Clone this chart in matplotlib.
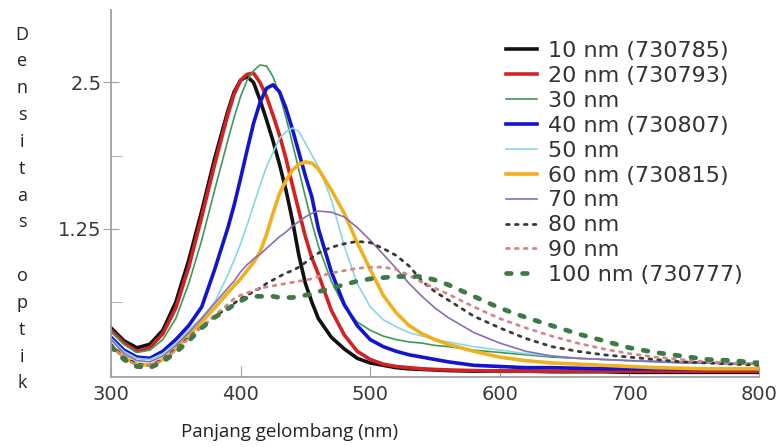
import numpy as np
import matplotlib.pyplot as plt

# panjang gelombang (nm)
lam = [300, 310, 320, 330, 340, 350, 360, 370, 380, 390, 395, 400, 405, 410, 415,
       420, 425, 430, 435, 440, 445, 450, 455, 460, 470, 480, 490, 500, 510, 520,
       530, 540, 550, 560, 580, 600, 620, 640, 660, 680, 700, 720, 740, 760, 780, 800]

nm10 = [0.40, 0.29, 0.23, 0.26, 0.38, 0.62, 0.98, 1.40, 1.85, 2.25, 2.42, 2.52, 2.55, 2.50, 2.35,
        2.18, 2.00, 1.80, 1.58, 1.32, 1.02, 0.78, 0.62, 0.48, 0.32, 0.22, 0.14, 0.10, 0.08, 0.06,
        0.05, 0.045, 0.04, 0.035, 0.03, 0.03, 0.03, 0.025, 0.025, 0.025, 0.02, 0.02, 0.02, 0.02, 0.02, 0.02]
nm20 = [0.38, 0.27, 0.20, 0.23, 0.35, 0.57, 0.92, 1.35, 1.80, 2.22, 2.40, 2.52, 2.57, 2.58, 2.50,
        2.38, 2.22, 2.05, 1.85, 1.62, 1.40, 1.18, 1.00, 0.86, 0.55, 0.34, 0.20, 0.13, 0.09, 0.07,
        0.06, 0.05, 0.045, 0.04, 0.035, 0.03, 0.03, 0.03, 0.03, 0.03, 0.03, 0.03, 0.03, 0.03, 0.03, 0.03]
nm30 = [0.37, 0.26, 0.19, 0.21, 0.30, 0.48, 0.78, 1.15, 1.58, 2.00, 2.20, 2.38, 2.52, 2.60, 2.65,
        2.64, 2.55, 2.40, 2.20, 1.98, 1.75, 1.52, 1.30, 1.10, 0.80, 0.58, 0.45, 0.38, 0.33, 0.30,
        0.28, 0.27, 0.25, 0.24, 0.21, 0.19, 0.17, 0.15, 0.14, 0.13, 0.12, 0.115, 0.11, 0.105, 0.10, 0.10]
nm40 = [0.32, 0.21, 0.15, 0.14, 0.20, 0.30, 0.42, 0.58, 0.90, 1.25, 1.45, 1.68, 1.92, 2.15, 2.33,
        2.45, 2.48, 2.42, 2.28, 2.10, 1.90, 1.70, 1.52, 1.25, 0.88, 0.60, 0.42, 0.30, 0.24, 0.20,
        0.17, 0.15, 0.13, 0.11, 0.08, 0.07, 0.06, 0.06, 0.055, 0.05, 0.05, 0.05, 0.05, 0.05, 0.05, 0.05]
nm50 = [0.31, 0.20, 0.14, 0.13, 0.18, 0.27, 0.38, 0.49, 0.62, 0.85, 0.98, 1.12, 1.28, 1.45, 1.62,
        1.78, 1.90, 2.02, 2.08, 2.11, 2.08, 1.98, 1.88, 1.78, 1.50, 1.10, 0.78, 0.58, 0.47, 0.41,
        0.36, 0.33, 0.30, 0.28, 0.24, 0.21, 0.18, 0.16, 0.14, 0.13, 0.12, 0.11, 0.105, 0.10, 0.10, 0.095]
nm60 = [0.25, 0.15, 0.09, 0.08, 0.13, 0.22, 0.34, 0.45, 0.57, 0.70, 0.76, 0.82, 0.89, 0.96, 1.05,
        1.20, 1.38, 1.55, 1.66, 1.75, 1.80, 1.82, 1.81, 1.76, 1.58, 1.38, 1.13, 0.90, 0.68, 0.53,
        0.42, 0.35, 0.30, 0.26, 0.20, 0.15, 0.12, 0.10, 0.09, 0.08, 0.07, 0.06, 0.055, 0.05, 0.05, 0.05]
nm70 = [0.30, 0.18, 0.12, 0.11, 0.16, 0.25, 0.36, 0.48, 0.61, 0.74, 0.80, 0.88, 0.94, 0.99, 1.03,
        1.08, 1.13, 1.18, 1.22, 1.27, 1.31, 1.35, 1.38, 1.40, 1.39, 1.35, 1.26, 1.15, 1.03, 0.91,
        0.78, 0.67, 0.57, 0.49, 0.36, 0.27, 0.20, 0.16, 0.14, 0.13, 0.12, 0.11, 0.10, 0.10, 0.09, 0.09]
nm80 = [0.26, 0.15, 0.09, 0.08, 0.13, 0.22, 0.32, 0.41, 0.50, 0.57, 0.61, 0.65, 0.68, 0.71, 0.74,
        0.78, 0.81, 0.84, 0.87, 0.89, 0.92, 0.96, 1.00, 1.04, 1.09, 1.12, 1.14, 1.13, 1.08, 1.02,
        0.93, 0.80, 0.71, 0.64, 0.50, 0.40, 0.31, 0.24, 0.20, 0.17, 0.15, 0.13, 0.11, 0.10, 0.09, 0.08]
nm90 = [0.25, 0.14, 0.08, 0.08, 0.12, 0.21, 0.31, 0.41, 0.51, 0.60, 0.65, 0.68, 0.70, 0.72, 0.74,
        0.75, 0.76, 0.77, 0.78, 0.79, 0.80, 0.81, 0.82, 0.84, 0.87, 0.89, 0.91, 0.92, 0.92, 0.90,
        0.85, 0.79, 0.74, 0.69, 0.58, 0.48, 0.40, 0.33, 0.27, 0.22, 0.18, 0.15, 0.13, 0.11, 0.10, 0.09]
nm100 = [0.24, 0.13, 0.07, 0.06, 0.11, 0.19, 0.29, 0.40, 0.49, 0.56, 0.60, 0.63, 0.66, 0.67, 0.67,
         0.67, 0.67, 0.66, 0.66, 0.66, 0.67, 0.68, 0.69, 0.71, 0.74, 0.77, 0.80, 0.82, 0.83, 0.84,
         0.84, 0.84, 0.81, 0.77, 0.67, 0.57, 0.49, 0.42, 0.35, 0.29, 0.23, 0.19, 0.16, 0.13, 0.12, 0.10]

labels = ['10 nm (730785)', '20 nm (730793)', '30 nm', '40 nm (730807)', '50 nm',
          '60 nm (730815)', '70 nm', '80 nm', '90 nm', '100 nm (730777)']

fig = plt.figure(figsize=(7.8, 4.47), dpi=100)
ax = fig.add_axes([0.1423, 0.1566, 0.8308, 0.821])

ax.plot(lam, nm10, color='#111111', lw=2.6, label=labels[0])
ax.plot(lam, nm20, color='#d42222', lw=2.6, label=labels[1])
ax.plot(lam, nm30, color='#3c9a55', lw=1.2, label=labels[2])
ax.plot(lam, nm40, color='#1414d0', lw=2.6, label=labels[3])
ax.plot(lam, nm50, color='#8ad6e6', lw=1.2, label=labels[4])
ax.plot(lam, nm60, color='#f0b020', lw=2.6, label=labels[5])
ax.plot(lam, nm70, color='#8a6cb4', lw=1.2, label=labels[6])
ax.plot(lam, nm80, color='#3a3a3a', lw=2.0, ls=(0, (1, 2.2)), dash_capstyle='round', label=labels[7])
ax.plot(lam, nm90, color='#d08888', lw=2.0, ls=(0, (1, 2.2)), dash_capstyle='round', label=labels[8])
ax.plot(lam, nm100, color='#3d7a45', lw=3.4, ls=(0, (1, 2.4)), dash_capstyle='round', label=labels[9])

ax.set_xlim(300, 800)
ax.set_ylim(-0.02, 3.12)
ax.set_xticks([300, 400, 500, 600, 700, 800])
ax.set_yticks([1.25, 2.5])
ax.set_yticklabels(['1.25', '2.5'])
ax.set_yticks([0.625, 1.875], minor=True)

for s in ['top', 'right']:
    ax.spines[s].set_visible(False)
for s in ['left', 'bottom']:
    ax.spines[s].set_color('#a0a0a0')
    ax.spines[s].set_linewidth(1.3)
ax.tick_params(axis='both', which='both', direction='in', length=8, color='#a0a0a0',
               labelsize=14, labelcolor='#3a3a3a')
ax.tick_params(axis='y', which='major', direction='inout', length=12, pad=1)
ax.tick_params(axis='x', pad=6)

leg = ax.legend(loc='upper left', bbox_to_anchor=(495 / 780, 1 - 30 / 447),
                bbox_transform=fig.transFigure, frameon=False, fontsize=16,
                handlelength=1.4, handletextpad=0.5, labelspacing=0.22, borderpad=0)
for t in leg.get_texts():
    t.set_color('#333333')

ylab = '\n'.join(list('Densitas optik'))
fig.text(22 / 780, 1 - 209 / 447, ylab, ha='center', va='center', fontsize=13,
         linespacing=1.63, family='Open Sans', color='#222222')
fig.text(290 / 780, 1 - 432 / 447, 'Panjang gelombang (nm)', ha='center', va='center',
         fontsize=13.5, family='Open Sans', color='#222222')

fig.savefig('out.png', dpi=100)
